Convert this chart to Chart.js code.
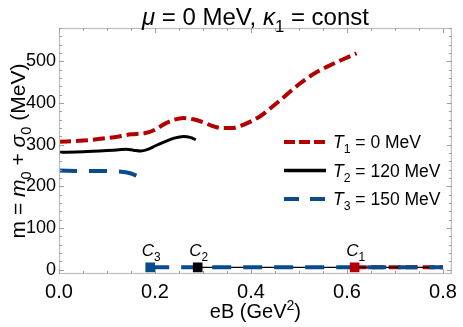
<!DOCTYPE html>
<html>
<head>
<meta charset="utf-8">
<script src="https://cdn.jsdelivr.net/npm/chart.js@4.4.1/dist/chart.umd.min.js"></script>
<style>
  html, body { margin: 0; padding: 0; background: #fff; }
  #wrap { width: 463px; height: 327px; }
</style>
</head>
<body>
<div id="wrap"><canvas id="c" width="463" height="327"></canvas></div>
<script>
// ── Data ──────────────────────────────────────────────────────────────────
const t1EB = [0.00, 0.05, 0.10, 0.125, 0.15, 0.18, 0.20, 0.22, 0.24, 0.26, 0.28, 0.30, 0.32, 0.34, 0.36, 0.38, 0.40, 0.42, 0.44, 0.46, 0.48, 0.50, 0.52, 0.54, 0.56, 0.58, 0.60, 0.62];
const t1M  = [307, 310, 316, 320, 325, 328, 336, 350, 360, 364, 361, 354, 345, 340, 340, 346, 356, 369, 387, 406, 426, 445, 462, 476, 488, 499, 509, 519];

const t2EB = [0.00, 0.05, 0.10, 0.125, 0.14, 0.155, 0.17, 0.185, 0.20, 0.22, 0.24, 0.26, 0.275, 0.285];
const t2M  = [282, 283, 286, 288, 289, 287, 285, 289, 297, 307, 316, 320, 317, 312];

const t3EB = [0.00, 0.05, 0.10, 0.13, 0.15, 0.163];
const t3M  = [238, 237, 237, 235, 231, 225];

// critical points C1, C2, C3 and the low (chirally restored) branch
const critNames = ['1', '2', '3'];
const critEB    = [0.616, 0.289, 0.190];
const critM     = [6, 6, 6];
const lowEnd    = 0.8;

const xTicks = [0, 0.2, 0.4, 0.6, 0.8];
const yTicks = [0, 100, 200, 300, 400, 500];
const xMinor = 0.05;
const yMinor = 20;

const RED   = '#b20000';
const BLACK = '#000000';
const BLUE  = '#0a4b8e';
const FONT  = '"Liberation Sans", Arial, Helvetica, sans-serif';

const pts = (xs, ys) => xs.map((x, i) => ({ x, y: ys[i] }));

// ── Mixed text helper (italics, subscripts, superscripts) ────────────────
function runFont(r, size) {
  const s = (r.sub || r.sup) ? size * 0.7 : size;
  return `${r.it ? 'italic ' : ''}${s}px ${FONT}`;
}
function runsWidth(ctx, runs, size) {
  let w = 0;
  runs.forEach(r => { ctx.font = runFont(r, size); w += ctx.measureText(r.t).width; });
  return w;
}
function drawRuns(ctx, runs, x, y, size, align) {
  let cx = align === 'center' ? x - runsWidth(ctx, runs, size) / 2 : x;
  ctx.textAlign = 'left';
  ctx.textBaseline = 'alphabetic';
  runs.forEach(r => {
    ctx.font = runFont(r, size);
    const dy = r.sub ? size * 0.3 : (r.sup ? -size * 0.42 : 0);
    ctx.fillText(r.t, cx, y + dy);
    cx += ctx.measureText(r.t).width;
  });
}

// ── Frame, ticks, titles, legend, point labels ───────────────────────────
const decor = {
  id: 'decor',
  afterDatasetsDraw(chart) {
    const { ctx, chartArea: a, scales: { x, y } } = chart;
    ctx.save();

    // frame
    ctx.strokeStyle = '#bdbdbd';
    ctx.lineWidth = 1.2;
    ctx.strokeRect(a.left + 0.5, a.top + 0.5, a.right - a.left - 1, a.bottom - a.top - 1);

    // ticks drawn inward on all four sides
    ctx.strokeStyle = '#a0a0a0';
    ctx.lineWidth = 1;
    ctx.beginPath();
    for (let v = 0; v <= x.max + 1e-9; v += xMinor) {
      const major = xTicks.some(t => Math.abs(t - v) < 1e-6);
      const len = major ? 5 : 3;
      const px = Math.round(x.getPixelForValue(v)) + 0.5;
      ctx.moveTo(px, a.bottom); ctx.lineTo(px, a.bottom - len);
      ctx.moveTo(px, a.top);    ctx.lineTo(px, a.top + len);
    }
    for (let v = 0; v <= y.max + 1e-9; v += yMinor) {
      const major = yTicks.includes(Math.round(v));
      const len = major ? 5 : 3;
      const py = Math.round(y.getPixelForValue(v)) + 0.5;
      ctx.moveTo(a.left, py);  ctx.lineTo(a.left + len, py);
      ctx.moveTo(a.right, py); ctx.lineTo(a.right - len, py);
    }
    ctx.stroke();

    ctx.fillStyle = '#000';

    // title
    drawRuns(ctx, [
      { t: 'μ', it: true }, { t: ' = 0 MeV, ' }, { t: 'κ', it: true }, { t: '1', sub: true }, { t: ' = const' }
    ], (a.left + a.right) / 2, 25, 24, 'center');

    // x title
    drawRuns(ctx, [{ t: 'eB (GeV' }, { t: '2', sup: true }, { t: ')' }],
      (a.left + a.right) / 2, 318, 20, 'center');

    // y title
    ctx.save();
    ctx.translate(25, (a.top + a.bottom) / 2);
    ctx.rotate(-Math.PI / 2);
    drawRuns(ctx, [
      { t: 'm = ' }, { t: 'm', it: true }, { t: '0', sub: true }, { t: ' + ' },
      { t: 'σ', it: true }, { t: '0', sub: true }, { t: ' (MeV)' }
    ], 0, 0, 21, 'center');
    ctx.restore();

    // C labels above the squares
    critEB.forEach((eb, i) => {
      const px = x.getPixelForValue(eb);
      const py = y.getPixelForValue(critM[i]);
      drawRuns(ctx, [{ t: 'C', it: true }, { t: critNames[i], sub: true }], px + 1, py - 11, 17, 'center');
    });

    // legend
    const rows = [
      { color: RED,   dash: [11, 4], w: 4,   lbl: '1', txt: ' = 0 MeV' },
      { color: BLACK, dash: [],      w: 3.5, lbl: '2', txt: ' = 120 MeV' },
      { color: BLUE,  dash: [15, 11], w: 4,  lbl: '3', txt: ' = 150 MeV' },
    ];
    rows.forEach((r, i) => {
      const ly = 142 + i * 28.5;
      ctx.save();
      ctx.strokeStyle = r.color;
      ctx.lineWidth = r.w;
      ctx.setLineDash(r.dash);
      ctx.beginPath(); ctx.moveTo(284, ly); ctx.lineTo(326, ly); ctx.stroke();
      ctx.restore();
      drawRuns(ctx, [{ t: 'T', it: true }, { t: r.lbl, sub: true }, { t: r.txt }], 333, ly + 6, 17.5, 'left');
    });

    ctx.restore();
  }
};

// ── Chart ─────────────────────────────────────────────────────────────────
const lineBase = { pointRadius: 0, fill: false, cubicInterpolationMode: 'monotone', borderCapStyle: 'butt' };

new Chart(document.getElementById('c').getContext('2d'), {
  type: 'line',
  data: {
    datasets: [
      // low branch: blue on top, black beneath, red at the bottom
      { ...lineBase, data: pts([critEB[2], lowEnd], [critM[2], critM[2]]), borderColor: BLUE,  borderWidth: 4,   borderDash: [19, 12], order: 1 },
      { ...lineBase, data: pts([critEB[1], lowEnd], [critM[1], critM[1]]), borderColor: BLACK, borderWidth: 1.4, order: 2 },
      { ...lineBase, data: pts([critEB[0], lowEnd], [critM[0], critM[0]]), borderColor: RED,   borderWidth: 4,   borderDash: [12, 5], order: 3 },
      // high branches
      { ...lineBase, data: pts(t1EB, t1M), borderColor: RED,   borderWidth: 4,   borderDash: [12, 5], order: 4 },
      { ...lineBase, data: pts(t2EB, t2M), borderColor: BLACK, borderWidth: 3,   order: 4 },
      { ...lineBase, data: pts(t3EB, t3M), borderColor: BLUE,  borderWidth: 4,   borderDash: [18, 12], order: 4 },
      // critical points
      {
        type: 'scatter', data: pts(critEB, critM), order: 0,
        pointStyle: 'rect', pointRadius: 6.8,
        pointBackgroundColor: [RED, BLACK, BLUE], pointBorderColor: [RED, BLACK, BLUE], pointBorderWidth: 0
      }
    ]
  },
  options: {
    responsive: false,
    animation: false,
    events: [],
    layout: { padding: { top: 28, right: 6, left: 0, bottom: 0 } },
    plugins: { legend: { display: false }, tooltip: { enabled: false }, title: { display: false } },
    scales: {
      x: {
        type: 'linear', min: 0, max: 0.8185,
        afterBuildTicks: s => { s.ticks = xTicks.map(v => ({ value: v })); },
        afterFit: s => { s.height = 53; },
        grid: { display: true, drawOnChartArea: false, drawTicks: false, color: 'rgba(0,0,0,0)' },
        border: { display: false },
        ticks: { callback: v => v.toFixed(1), font: { size: 20, family: FONT }, color: '#000', maxRotation: 0, autoSkip: false, padding: 6 }
      },
      y: {
        type: 'linear', min: -10, max: 580,
        afterBuildTicks: s => { s.ticks = yTicks.map(v => ({ value: v })); },
        afterFit: s => { s.width = 59; },
        grid: { display: true, drawOnChartArea: false, drawTicks: false, color: 'rgba(0,0,0,0)' },
        border: { display: false },
        ticks: { callback: v => String(v), font: { size: 18, family: FONT }, color: '#000', autoSkip: false, padding: 3 }
      }
    }
  },
  plugins: [decor]
});
</script>
</body>
</html>
